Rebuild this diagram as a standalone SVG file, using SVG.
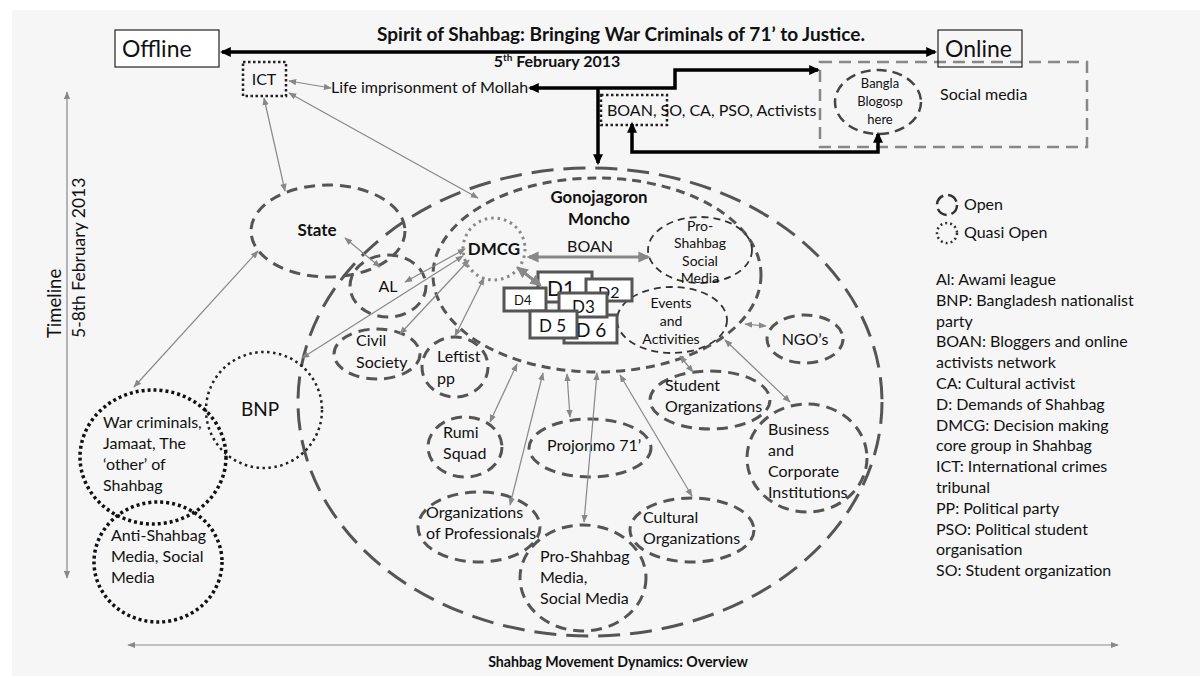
<svg xmlns="http://www.w3.org/2000/svg" width="1200" height="678" viewBox="0 0 1200 678" font-size="16">
<defs>
<style>
text{font-family:Lato,"Liberation Sans",sans-serif;fill:#111}
.b{font-weight:bold}
.c{text-anchor:middle}
.big{fill:none;stroke:#555;stroke-width:3;stroke-dasharray:22 10}
.gono{fill:none;stroke:#555;stroke-width:3;stroke-dasharray:9 6}
.med{fill:none;stroke:#555;stroke-width:3;stroke-dasharray:11 7}
.thin{fill:none;stroke:#333;stroke-width:1.8;stroke-dasharray:7 5}
.dot{fill:none;stroke:#111;stroke-width:3.5;stroke-dasharray:3 3}
.dotg{fill:none;stroke:#888;stroke-width:3;stroke-dasharray:2.5 4}
.dotb{fill:none;stroke:#222;stroke-width:2.5;stroke-dasharray:2.5 3.5}
.box{fill:#fff;stroke:#555;stroke-width:3}
.g{fill:none;stroke:#888;stroke-width:1.2;marker-start:url(#ag);marker-end:url(#ag)}
.gt{fill:none;stroke:#888;stroke-width:3;marker-start:url(#agt);marker-end:url(#agt)}
.k{fill:none;stroke:#000;stroke-width:3.5}
</style>
<marker id="ag" viewBox="0 0 10 10" refX="9" refY="5" markerWidth="8" markerHeight="8" markerUnits="userSpaceOnUse" orient="auto-start-reverse"><path d="M0,1 L10,5 L0,9 z" fill="#888"/></marker>
<marker id="agt" viewBox="0 0 10 10" refX="8" refY="5" markerWidth="12" markerHeight="12" markerUnits="userSpaceOnUse" orient="auto-start-reverse"><path d="M0,0.5 L10,5 L0,9.5 z" fill="#888"/></marker>
<marker id="ab" viewBox="0 0 10 10" refX="8" refY="5" markerWidth="11" markerHeight="11" markerUnits="userSpaceOnUse" orient="auto-start-reverse"><path d="M0,0.5 L10,5 L0,9.5 z" fill="#000"/></marker>
</defs>
<rect x="0" y="0" width="1200" height="678" fill="#fff"/>
<rect x="12" y="10" width="1188" height="666" fill="#f6f6f6"/>

<g id="title">
<text class="b c" x="621" y="41" font-size="19">Spirit of Shahbag: Bringing War Criminals of 71’ to Justice.</text>
<text class="b c" x="557" y="67" font-size="16">5<tspan font-size="10" dy="-6">th</tspan><tspan dy="6"> February 2013</tspan></text>
</g>

<g id="offline"><rect x="115" y="30" width="104" height="37" fill="#fff" stroke="#222" stroke-width="1.2"/><text x="122" y="57" font-size="23">Offline</text></g>
<g id="social-media"><rect x="820" y="62" width="267" height="85" fill="none" stroke="#888" stroke-width="2.5" stroke-dasharray="12 7"/><text x="940" y="100" font-size="16">Social media</text></g>
<g id="online"><rect x="938" y="30" width="84" height="37" fill="none" stroke="#222" stroke-width="1.2"/><text x="945" y="57" font-size="23">Online</text></g>
<g id="bangla"><ellipse cx="878" cy="102" rx="43" ry="32" fill="none" stroke="#444" stroke-width="2.5" stroke-dasharray="10 6"/>
<text class="c" x="880" y="88" font-size="13">Bangla</text><text class="c" x="880" y="106" font-size="13">Blogosp</text><text class="c" x="880" y="124" font-size="13">here</text></g>
<g id="ict"><rect x="243" y="62" width="43" height="34" fill="none" stroke="#222" stroke-width="2.5" stroke-dasharray="2.5 2.5"/><text class="c" x="264" y="85" font-size="16">ICT</text></g>
<g id="mollah"><text x="331" y="93" font-size="16">Life imprisonment of Mollah</text></g>
<g id="boan-box"><rect x="601" y="95" width="66" height="30" fill="none" stroke="#222" stroke-width="2.5" stroke-dasharray="2.5 2.5"/><text x="607" y="116" font-size="16">BOAN, SO, CA, PSO, Activists</text></g>

<g id="timeline">
<text transform="translate(61,338) rotate(-90)" font-size="18.5">Timeline</text>
<text transform="translate(85,338) rotate(-90)" font-size="17.5">5-8th February 2013</text>
</g>
<g id="overview"><text class="b c" x="618" y="667" font-size="14.2">Shahbag Movement Dynamics: Overview</text></g>

<g id="big-ellipse"><ellipse class="big" cx="590" cy="402" rx="292" ry="234"/></g>
<g id="gonojagoron"><ellipse class="gono" cx="597" cy="275" rx="164" ry="97"/>
<text class="b c" x="599" y="203" font-size="16.8">Gonojagoron</text><text class="b c" x="599" y="225" font-size="16.8">Moncho</text>
<text class="c" x="590" y="252" font-size="16">BOAN</text></g>
<g id="state"><ellipse class="med" cx="328" cy="231" rx="77" ry="46"/><text class="b c" x="317" y="236" font-size="17">State</text></g>
<g id="al"><ellipse class="med" cx="388" cy="286" rx="38" ry="31"/><text class="c" x="388" y="292">AL</text></g>
<g id="civil"><ellipse class="med" cx="377" cy="354" rx="43" ry="25"/><text x="356" y="346">Civil</text><text x="356" y="368">Society</text></g>
<g id="leftist"><ellipse class="med" cx="455" cy="367" rx="33" ry="30"/><text x="437" y="362">Leftist</text><text x="437" y="384">pp</text></g>
<g id="dmcg"><circle class="dotg" cx="494" cy="249" r="31"/><text class="b c" x="494" y="255" font-size="17">DMCG</text></g>
<g id="pro-social"><ellipse class="thin" cx="700" cy="250" rx="52" ry="33"/>
<text class="c" x="700" y="231" font-size="14">Pro-</text><text class="c" x="700" y="248" font-size="14">Shahbag</text><text class="c" x="700" y="266" font-size="14">Social</text><text class="c" x="700" y="283" font-size="14">Media</text></g>
<g id="events"><ellipse class="thin" cx="672" cy="320" rx="55" ry="33"/>
<text class="c" x="671" y="308" font-size="14">Events</text><text class="c" x="671" y="326" font-size="14">and</text><text class="c" x="671" y="344" font-size="14">Activities</text></g>
<g id="demands">
<rect class="box" x="538" y="272" width="54" height="30"/><text x="547" y="296" font-size="21">D1</text>
<rect class="box" x="586" y="279" width="46" height="22"/><text x="598" y="298" font-size="16">D2</text>
<rect class="box" x="504" y="288" width="42" height="23"/><text x="514" y="305" font-size="13">D4</text>
<rect class="box" x="564" y="315" width="53" height="28"/><text x="576" y="337" font-size="19">D 6</text>
<rect class="box" x="559" y="293" width="48" height="24"/><text x="572" y="313" font-size="17">D3</text>
<rect class="box" x="530" y="311" width="47" height="27"/><text x="539" y="332" font-size="17">D 5</text>
</g>
<g id="student"><ellipse class="med" cx="710" cy="400" rx="60" ry="29"/><text x="665" y="391">Student</text><text x="665" y="412">Organizations</text></g>
<g id="ngo"><ellipse class="med" cx="805" cy="339" rx="38" ry="24"/><text class="c" x="805" y="345">NGO’s</text></g>
<g id="business"><ellipse class="med" cx="807" cy="458" rx="60" ry="54"/><text x="768" y="435">Business</text><text x="768" y="456">and</text><text x="768" y="477">Corporate</text><text x="768" y="498">Institutions</text></g>
<g id="rumi"><ellipse class="med" cx="465" cy="447" rx="37" ry="30"/><text x="443" y="438">Rumi</text><text x="443" y="459">Squad</text></g>
<g id="projonmo"><ellipse class="med" cx="590" cy="448" rx="61" ry="29"/><text x="547" y="451">Projonmo 71’</text></g>
<g id="professionals"><ellipse class="med" cx="479" cy="527" rx="61" ry="35"/><text x="426" y="518">Organizations</text><text x="426" y="539">of Professionals</text></g>
<g id="pro-media"><ellipse class="med" cx="583" cy="578" rx="63" ry="53"/><text x="540" y="562">Pro-Shahbag</text><text x="540" y="583">Media,</text><text x="540" y="604">Social Media</text></g>
<g id="cultural"><ellipse class="med" cx="692" cy="530" rx="62" ry="32"/><text x="643" y="523">Cultural</text><text x="643" y="544">Organizations</text></g>
<g id="bnp"><circle class="dotb" cx="264" cy="410" r="58"/><text class="c" x="260" y="416" font-size="19">BNP</text></g>
<g id="war"><ellipse class="dot" cx="153" cy="457" rx="73" ry="67"/><text x="103" y="428">War criminals,</text><text x="103" y="449">Jamaat, The</text><text x="103" y="470">‘other’ of</text><text x="103" y="491">Shahbag</text></g>
<g id="anti"><ellipse class="dot" cx="158" cy="562" rx="64" ry="60"/><text x="111" y="541">Anti-Shahbag</text><text x="111" y="562">Media, Social</text><text x="111" y="583">Media</text></g>

<g id="legend">
<circle cx="947" cy="205" r="10" fill="none" stroke="#333" stroke-width="2.5" stroke-dasharray="11 5"/><text x="964" y="210">Open</text>
<circle cx="947" cy="233" r="10" fill="none" stroke="#333" stroke-width="2.5" stroke-dasharray="2 3"/><text x="964" y="238">Quasi Open</text>
<text x="936" y="285">Al: Awami league</text>
<text x="936" y="306">BNP: Bangladesh nationalist</text>
<text x="936" y="327">party</text>
<text x="936" y="347">BOAN: Bloggers and online</text>
<text x="936" y="368">activists network</text>
<text x="936" y="389">CA: Cultural activist</text>
<text x="936" y="410">D: Demands of Shahbag</text>
<text x="936" y="431">DMCG: Decision making</text>
<text x="936" y="451">core group in Shahbag</text>
<text x="936" y="472">ICT: International crimes</text>
<text x="936" y="493">tribunal</text>
<text x="936" y="514">PP: Political party</text>
<text x="936" y="535">PSO: Political student</text>
<text x="936" y="555">organisation</text>
<text x="936" y="576">SO: Student organization</text>
</g>

<g id="connectors">
<line class="k" x1="222" y1="52" x2="935" y2="52" marker-start="url(#ab)" marker-end="url(#ab)"/>
<path class="k" d="M818,70 L675,70 L675,88 L530,88" marker-start="url(#ab)" marker-end="url(#ab)"/>
<path class="k" d="M598,88 L598,163" marker-end="url(#ab)"/>
<path class="k" d="M632,124 L632,152 L878,152 L878,134" marker-start="url(#ab)" marker-end="url(#ab)"/>
<line class="g" x1="67" y1="92" x2="67" y2="578"/>
<line class="g" x1="128" y1="645" x2="1118" y2="645"/>
<line class="g" x1="289" y1="81" x2="331" y2="88"/>
<line class="g" x1="264" y1="98" x2="285" y2="191"/>
<line class="g" x1="289" y1="93" x2="478" y2="198"/>
<line class="g" x1="345" y1="238" x2="380" y2="267"/>
<line class="g" x1="465" y1="249" x2="405" y2="282"/>
<line class="g" x1="469" y1="260" x2="400" y2="334"/>
<line class="g" x1="302" y1="358" x2="463" y2="256" marker-start="none"/>
<line class="g" x1="484" y1="278" x2="455" y2="336"/>
<line class="g" x1="258" y1="251" x2="134" y2="387"/>
<line class="g" x1="517" y1="364" x2="490" y2="422"/>
<line class="g" x1="543" y1="373" x2="510" y2="505"/>
<line class="g" x1="567" y1="374" x2="570" y2="417"/>
<line class="g" x1="597" y1="373" x2="584" y2="522"/>
<line class="g" x1="620" y1="375" x2="692" y2="496"/>
<line class="g" x1="680" y1="356" x2="693" y2="372"/>
<line class="g" x1="745" y1="324" x2="766" y2="326"/>
<line class="g" x1="725" y1="340" x2="790" y2="402"/>
<line class="gt" x1="529" y1="257" x2="648" y2="257"/>
<line class="gt" x1="518" y1="268" x2="540" y2="285"/>
</g>
</svg>
